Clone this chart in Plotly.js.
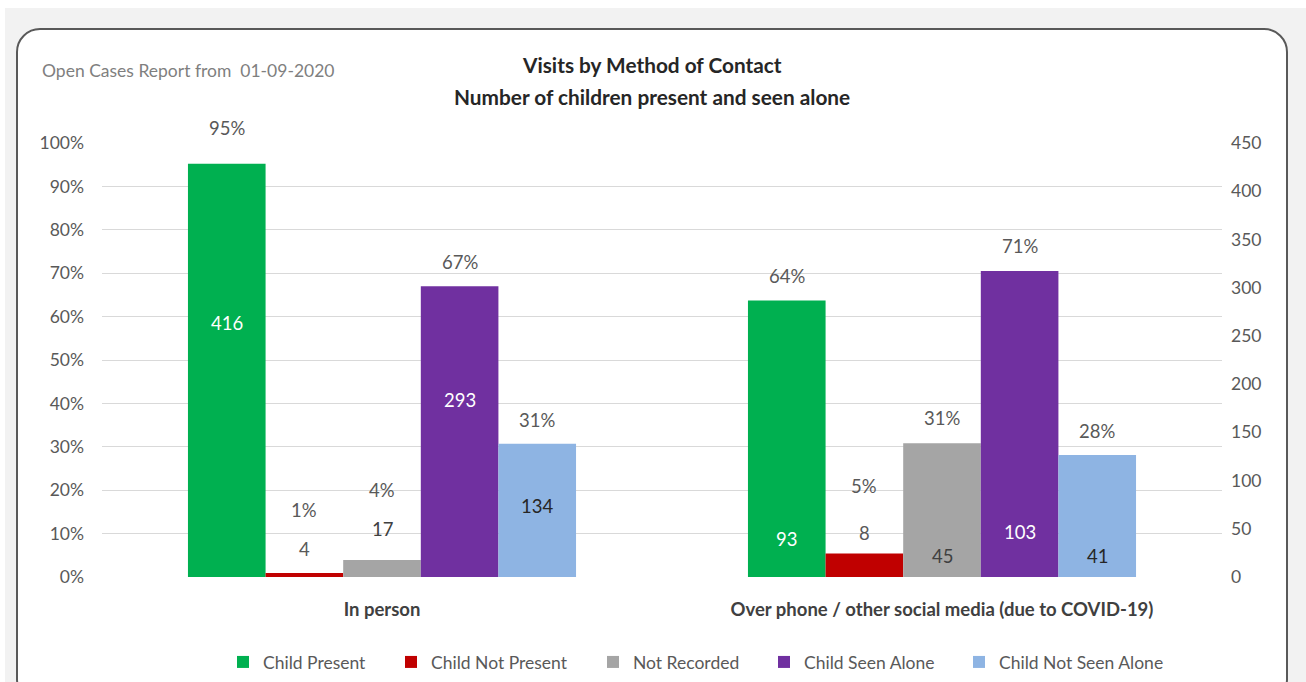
<!DOCTYPE html>
<html>
<head>
<meta charset="utf-8">
<script src="https://cdn.plot.ly/plotly-3.0.1.min.js"></script>
<style>
  html, body { margin: 0; padding: 0; width: 1306px; height: 682px; overflow: hidden; background: #ffffff; }
  #bg { position: absolute; left: 5px; top: 8px; width: 1301px; height: 674px; background: #f2f2f2; }
  #box { position: absolute; left: 16px; top: 28px; width: 1268px; height: 672px; background: #ffffff;
         border: 2px solid #595959; border-radius: 24px; }
  #chart { position: absolute; left: 0; top: 0; width: 1306px; height: 682px; }
</style>
</head>
<body>
<div id="bg"></div>
<div id="box"></div>
<div id="chart"></div>
<script>
// ---- data ----
const categories = ["In person", "Over phone / other social media (due to COVID-19)"];
const seriesNames = ["Child Present", "Child Not Present", "Not Recorded", "Child Seen Alone", "Child Not Seen Alone"];
// percentages (left axis)
const pctChildPresent     = [95.2, 63.7];
const pctChildNotPresent  = [0.9, 5.4];
const pctNotRecorded      = [3.9, 30.8];
const pctChildSeenAlone   = [67.0, 70.5];
const pctChildNotSeenAlone= [30.7, 28.1];
// counts (data labels)
const cntChildPresent     = [416, 93];
const cntChildNotPresent  = [4, 8];
const cntNotRecorded      = [17, 45];
const cntChildSeenAlone   = [293, 103];
const cntChildNotSeenAlone= [134, 41];
const leftTicks  = [0,10,20,30,40,50,60,70,80,90,100];
const rightTicks = [0,50,100,150,200,250,300,350,400,450];

// ---- styling / label placement (layout, not data) ----
const colors = ["#00b050", "#c00000", "#a5a5a5", "#7030a0", "#8eb4e3"];
const countColors = ["#ffffff", "#595959", "#404040", "#ffffff", "#262626"];
// label y positions in percent-axis units [series][category]
const pctLabelY = [[103.5, 69.4], [15.4, 21.0], [20.0, 36.6], [72.6, 76.3], [36.2, 33.6]];
const cntLabelY = [[58.5, 8.8], [6.5, 10.1], [11.1, 4.8], [40.8, 10.4], [16.4, 4.8]];
// legend entry left positions (pixels)
const legendLeftPx = [223, 391, 593, 764, 959];

const pcts = [pctChildPresent, pctChildNotPresent, pctNotRecorded, pctChildSeenAlone, pctChildNotSeenAlone];
const cnts = [cntChildPresent, cntChildNotPresent, cntNotRecorded, cntChildSeenAlone, cntChildNotSeenAlone];

const FONT = "Lato, 'Open Sans', sans-serif";
const M = { l: 102, r: 84, t: 143, b: 105 };
const plotW = 1306 - M.l - M.r;
const yRange = [0, 100];
const xs = categories.map((c, i) => i);
const bargap = 0.307;
const w = (1 - bargap) / seriesNames.length;
const legendKey = j => (j === 0 ? "legend" : "legend" + (j + 1));

const traces = seriesNames.map((name, j) => ({
  type: "bar", name: name, x: xs, y: pcts[j],
  marker: { color: colors[j], line: { width: 0 } },
  legend: legendKey(j),
  hoverinfo: "skip"
}));
// invisible trace to carry the secondary (count) axis
traces.push({ type: "scatter", mode: "markers", x: xs, y: cntChildPresent, yaxis: "y2",
  marker: { opacity: 0 }, showlegend: false, hoverinfo: "skip" });

const toPaperY = v => (v - yRange[0]) / (yRange[1] - yRange[0]);
const annotations = [];
seriesNames.forEach((name, j) => {
  xs.forEach((xi, i) => {
    const xpos = xi + (j - (seriesNames.length - 1) / 2) * w;
    annotations.push({ x: xpos, y: toPaperY(pctLabelY[j][i]), xref: "x", yref: "paper",
      xanchor: "center", yanchor: "middle",
      text: Math.round(pcts[j][i]) + "%", showarrow: false,
      font: { family: FONT, size: 18.5, color: "#595959" } });
    annotations.push({ x: xpos, y: toPaperY(cntLabelY[j][i]), xref: "x", yref: "paper",
      xanchor: "center", yanchor: "middle",
      text: String(cnts[j][i]), showarrow: false,
      font: { family: FONT, size: 18.5, color: countColors[j] } });
  });
});
annotations.push({ xref: "paper", yref: "paper", x: -0.0554, y: 1.166, xanchor: "left", yanchor: "middle",
  text: "Open Cases Report from  01-09-2020", showarrow: false,
  font: { family: FONT, size: 17.5, color: "#7f7f7f" } });
annotations.push({ xref: "paper", yref: "paper", x: 0.491, y: 1.18, xanchor: "center", yanchor: "middle",
  text: "<b>Visits by Method of Contact</b>", showarrow: false,
  font: { family: FONT, size: 20.8, color: "#262626" } });
annotations.push({ xref: "paper", yref: "paper", x: 0.491, y: 1.106, xanchor: "center", yanchor: "middle",
  text: "<b>Number of children present and seen alone</b>", showarrow: false,
  font: { family: FONT, size: 20.8, color: "#262626" } });

const layout = {
  width: 1306, height: 682,
  paper_bgcolor: "rgba(0,0,0,0)", plot_bgcolor: "rgba(0,0,0,0)",
  margin: { l: M.l, r: M.r, t: M.t, b: M.b, pad: 0, autoexpand: false },
  barmode: "group", bargap: bargap, bargroupgap: 0,
  showlegend: true,
  xaxis: { range: [-0.5, 1.5], tickvals: xs, ticktext: categories.map(c => "<b>" + c + "</b>"),
    showgrid: false, zeroline: false, showline: false, ticks: "",
    tickfont: { family: FONT, size: 18.5, color: "#404040" }, ticklabelstandoff: 19, fixedrange: true },
  yaxis: { range: yRange, tickvals: leftTicks, ticktext: leftTicks.map(v => v + "%"),
    showgrid: true, gridcolor: "#d9d9d9", gridwidth: 1, zeroline: false, showline: false, ticks: "",
    tickfont: { family: FONT, size: 17.5, color: "#595959" }, ticklabelstandoff: 17 },
  yaxis2: { range: [0, 450], tickvals: rightTicks, overlaying: "y", side: "right",
    showgrid: false, zeroline: false, showline: false, ticks: "",
    tickfont: { family: FONT, size: 17.5, color: "#595959" }, ticklabelstandoff: 8 },
  annotations: annotations
};
seriesNames.forEach((name, j) => {
  layout[legendKey(j)] = {
    orientation: "h", xanchor: "left", x: (legendLeftPx[j] - M.l) / plotW,
    y: -0.196, yanchor: "middle", itemwidth: 30, bgcolor: "rgba(0,0,0,0)", borderwidth: 0,
    font: { family: FONT, size: 17.5, color: "#595959" }
  };
});

Plotly.newPlot("chart", traces, layout, { displayModeBar: false, staticPlot: true });
</script>
</body>
</html>
